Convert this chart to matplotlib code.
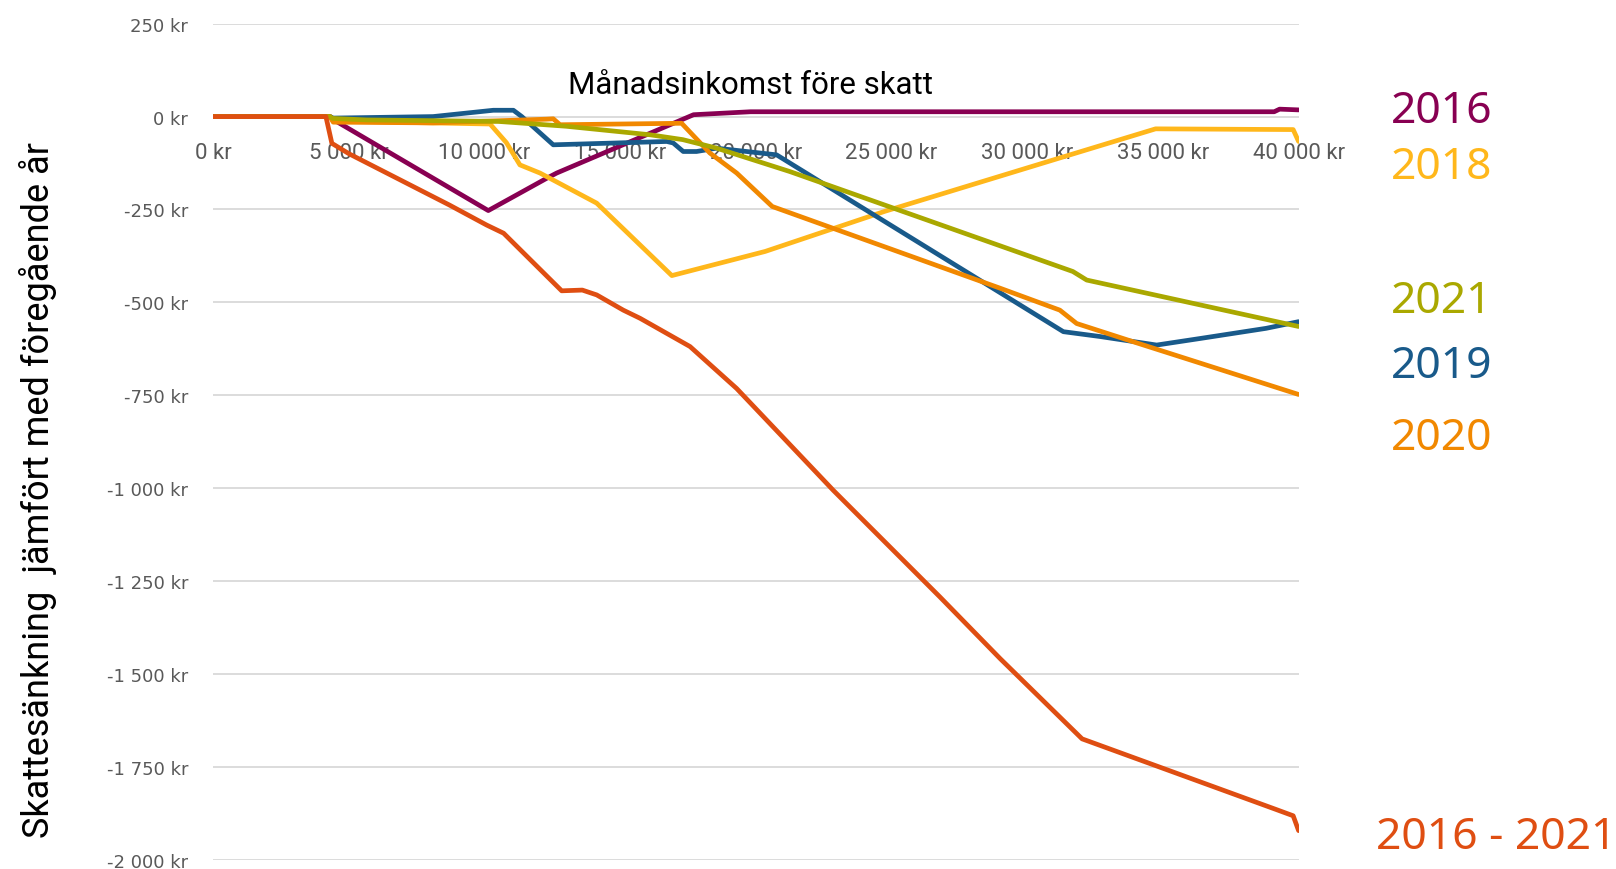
import matplotlib
matplotlib.use('Agg')
import matplotlib.pyplot as plt
from matplotlib.ticker import FuncFormatter, MultipleLocator

# Månadsinkomst (kr) och skatteförändring (kr), brytpunkter
x_2016 = [0, 4300, 4420, 10135, 11300, 12290, 12655, 17700, 19800, 39100, 39300, 40000]
y_2016 = [0, 0, -8, -253, -206, -166, -152, 5, 13, 13, 20, 18]

x_2018 = [0, 4300, 4420, 10200, 10800, 11300, 12040, 14130, 16900, 20340, 24750, 31170, 34730, 39800, 40000]
y_2018 = [0, 0, -12, -20, -70, -130, -152, -233, -428, -363, -255, -112, -33, -35, -67]

x_2019 = [0, 4300, 4420, 8100, 10320, 11060, 11370, 12530, 16710, 16950, 17320, 17810, 18550, 20760, 31330, 32680, 34770, 36400, 38800, 40000]
y_2019 = [0, 0, -4, 0, 17, 17, 0, -76, -67, -71, -94, -94, -85, -103, -579, -592, -615, -597, -570, -552]

x_2020 = [0, 4300, 4420, 8100, 12280, 12530, 12780, 17260, 18300, 19290, 20600, 29000, 31200, 31820, 33900, 40000]
y_2020 = [0, 0, -15, -17, -7, -6, -22, -18, -98, -152, -242, -462, -521, -557, -606, -748]

x_2021 = [0, 4300, 4400, 5650, 10500, 13000, 16100, 17300, 18550, 21250, 31680, 32190, 40000]
y_2021 = [0, 0, -5, -9, -13, -26, -49, -62, -85, -148, -417, -440, -565]

x_tot = [0, 4150, 4370, 5000, 8700, 10075, 10700, 12840, 13600, 14130, 15110, 15730, 17570, 19290,
         22850, 26780, 29000, 32020, 39130, 39800, 40000]
y_tot = [0, 0, -72, -100, -238, -292, -314, -469, -467, -480, -521, -543, -619, -732,
         -1006, -1293, -1459, -1675, -1864, -1882, -1922]

serier = [
    ('2016', x_2016, y_2016, '#880052'),
    ('2018', x_2018, y_2018, '#FFB71B'),
    ('2019', x_2019, y_2019, '#195A8A'),
    ('2020', x_2020, y_2020, '#F18800'),
    ('2021', x_2021, y_2021, '#AAA800'),
    ('2016 - 2021', x_tot, y_tot, '#DF4E12'),
]
# etikettplacering till höger (pixlar)
etikett_y = {'2016': 112, '2018': 168, '2021': 302, '2019': 367, '2020': 439, '2016 - 2021': 838}
etikett_x = {'2016 - 2021': 1376}

W, H = 1616, 870
fig = plt.figure(figsize=(W / 100, H / 100), dpi=100)
ax = fig.add_axes([213.3 / W, 1 - 860.6 / H, (1298.6 - 213.3) / W, (860.6 - 24.7) / H])

for namn, xs, ys, farg in serier:
    ax.plot(xs, ys, color=farg, lw=3.4, solid_joinstyle='round', solid_capstyle='round')
    fig.text(etikett_x.get(namn, 1391) / W, 1 - etikett_y[namn] / H, namn, color=farg,
             fontsize=32, family='Noto Sans', ha='left', va='center')

ax.set_xlim(0, 40000)
ax.set_ylim(-2000, 250)
ax.yaxis.set_major_locator(MultipleLocator(250))
ax.xaxis.set_major_locator(MultipleLocator(5000))

def kr(v, pos):
    return f"{int(round(v)):,}".replace(',', ' ') + ' kr'

ax.yaxis.set_major_formatter(FuncFormatter(kr))
ax.xaxis.set_major_formatter(FuncFormatter(kr))

ax.grid(axis='y', color='#D9D9D9', lw=1.3)
ax.set_axisbelow(True)
for s in ax.spines.values():
    s.set_visible(False)
ax.spines['bottom'].set_position(('data', 0))
ax.tick_params(axis='x', length=0, pad=18, labelsize=16, labelcolor='#595959')
ax.tick_params(axis='y', length=0, pad=18, labelsize=13, labelcolor='#595959')
for t in ax.get_xticklabels():
    t.set_family('Roboto')

fig.text(751 / W, 1 - 86 / H, 'Månadsinkomst före skatt', fontsize=22.5,
         family='Roboto', ha='center', va='center', color='black')
fig.text(38 / W, 1 - 490 / H, 'Skattesänkning  jämfört med föregående år', fontsize=26,
         family='Roboto', rotation=90, ha='center', va='center', color='black')

fig.savefig('out.png', dpi=100)
